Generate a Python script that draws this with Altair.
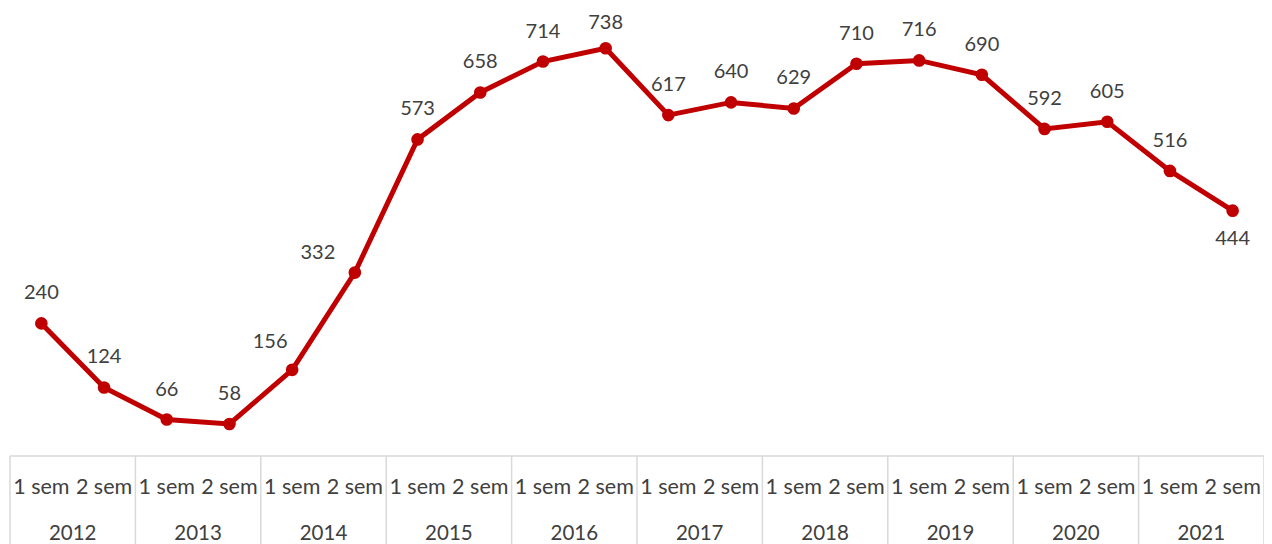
import altair as alt
import pandas as pd

years = ["2012", "2013", "2014", "2015", "2016", "2017", "2018", "2019", "2020", "2021"]
semesters = ["1 sem", "2 sem"]
values = [240, 124, 66, 58, 156, 332, 573, 658, 714, 738,
          617, 640, 629, 710, 716, 690, 592, 605, 516, 444]

FONT = "Lato"
TXT = "#404040"
RED = "#C00000"
GRID = "#D9D9D9"
H = 442
W = 1254

rows = []
for i, v in enumerate(values):
    rows.append({"idx": i, "pos": i + 0.5, "value": v,
                 "sem": semesters[i % 2], "year": years[i // 2]})
df = pd.DataFrame(rows)

ydf = pd.DataFrame({"year": years, "center": [2 * k + 1 for k in range(len(years))]})
bdf = pd.DataFrame({"bx": [2 * k for k in range(len(years) + 1)]})
hdf = pd.DataFrame({"x0": [0], "x1": [2 * len(years)], "y0": [0]})

xs = alt.Scale(domain=[0, 2 * len(years)], nice=False, zero=False)
ys = alt.Scale(domain=[0, 800], nice=False)


def X(f):
    return alt.X(f, scale=xs, axis=None)


def Y(f):
    return alt.Y(f, scale=ys, axis=None)


base = alt.Chart(df)

line = base.mark_line(color=RED, strokeWidth=5).encode(x=X("pos:Q"), y=Y("value:Q"))
pts = base.mark_circle(color=RED, size=160, opacity=1).encode(x=X("pos:Q"), y=Y("value:Q"))


def lbl(filt, dx, dy):
    return base.transform_filter(filt).mark_text(
        font=FONT, fontSize=20, color=TXT, baseline="middle", dx=dx, dy=dy
    ).encode(x=X("pos:Q"), y=Y("value:Q"), text="value:Q")


labels_main = lbl("datum.idx != 4 && datum.idx != 5 && datum.idx != 9 && datum.idx != 19", 0, -30)
label_738 = lbl("datum.idx == 9", 0, -25)
label_156 = lbl("datum.idx == 4", -22, -28)
label_332 = lbl("datum.idx == 5", -37, -20)
label_444 = lbl("datum.idx == 19", 0, 28)

hline = alt.Chart(hdf).mark_rule(color=GRID, strokeWidth=1.5).encode(
    x=X("x0:Q"), x2="x1:Q", y=Y("y0:Q")
)

vlines = alt.Chart(bdf).mark_rule(color=GRID, strokeWidth=1.5).encode(
    x=X("bx:Q"), y=alt.value(H), y2=alt.value(H + 120)
)

sem_text = base.mark_text(font=FONT, fontSize=21.5, color=TXT, baseline="middle").encode(
    x=X("pos:Q"), y=alt.value(H + 32), text="sem:N"
)
year_text = alt.Chart(ydf).mark_text(font=FONT, fontSize=20.5, color=TXT, baseline="middle").encode(
    x=X("center:Q"), y=alt.value(H + 78), text="year:N"
)

chart = alt.layer(
    hline, vlines, line, pts, labels_main, label_738, label_156, label_332, label_444,
    sem_text, year_text
).properties(
    width=W, height=H,
    autosize=alt.AutoSizeParams(type="none"),
    padding={"left": 2, "top": 6, "right": 0, "bottom": 90},
).configure_view(strokeWidth=0)

chart.save("out.html", embed_options={"renderer": "svg", "actions": False})
